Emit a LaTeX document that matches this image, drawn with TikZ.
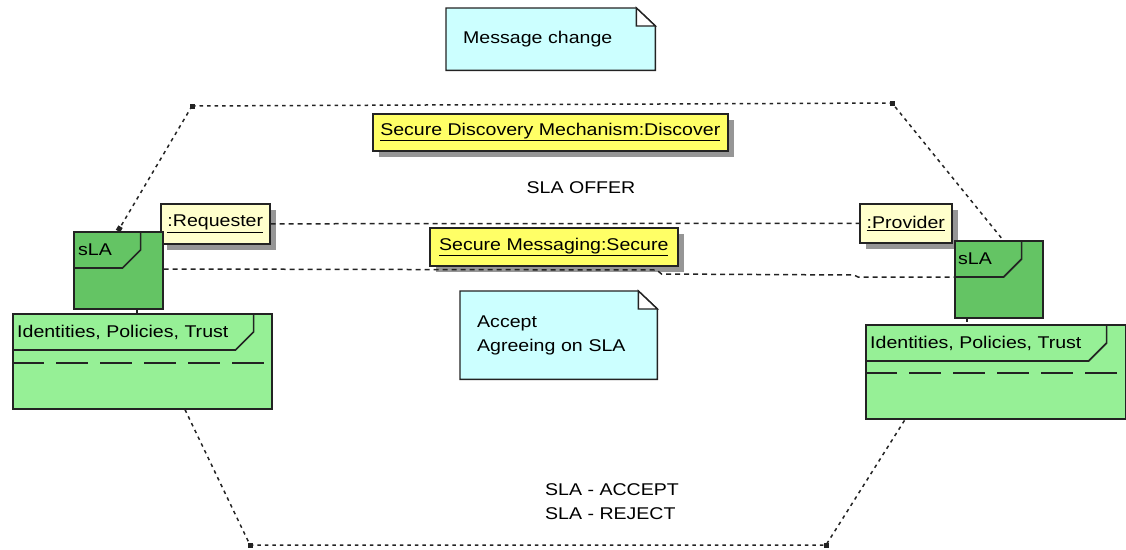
\documentclass[tikz,border=0pt]{standalone}
\usepackage{fontspec}
\setmainfont{Liberation Sans}[FakeStretch=1.15]
\usepackage{tikz}
\usetikzlibrary{arrows.meta, positioning, backgrounds, shadows, calc}
\definecolor{slagreen}{RGB}{100,196,100}
\definecolor{pkggreen}{RGB}{150,240,150}
\definecolor{objyellow}{RGB}{255,255,102}
\definecolor{objpale}{RGB}{255,255,204}
\definecolor{notecyan}{RGB}{204,255,255}
\definecolor{shadowgray}{RGB}{150,150,150}
\definecolor{edge}{RGB}{35,35,35}
\tikzset{%
	boxline/.style={draw=edge, line width=1.6pt},
	slabox/.style={boxline, fill=slagreen, rectangle, inner sep=0pt, anchor=north west},
	pkgbox/.style={boxline, fill=pkggreen, rectangle, inner sep=0pt, anchor=north west},
	objbox/.style={boxline, fill=objyellow, rectangle, inner sep=0pt, anchor=north west,%
		drop shadow={shadow xshift=6pt, shadow yshift=-6pt, fill=shadowgray, opacity=1}},
	objpalebox/.style={objbox, fill=objpale},
	notebox/.style={rectangle, inner xsep=17pt, inner ysep=0pt, anchor=north west, align=left},
	msgline/.style={edge, line width=1.5pt, dash pattern=on 5pt off 4pt},
	dotline/.style={edge, line width=1.5pt, dash pattern=on 3.5pt off 4pt},
	cornerpt/.style={fill=edge, rectangle, minimum size=5pt, inner sep=0pt},
	plain/.style={inner sep=0pt}
}
% cut-corner header of a box: node, notch from right, header depth
\newcommand\pkghead[3]{%
	\draw[boxline] ($(#1.north east)+(-#2,0)$) -- ++(0,#3-18) -- ++(-18,18)
		-- ($(#1.north west)+(0,#3)$);
}
% note outline with folded corner, behind the text
\newcommand\notefold[1]{%
	\begin{scope}[on background layer]
		\draw[boxline, line width=1.4pt, fill=notecyan] (#1.north west) -- ($(#1.north east)+(-19,0)$)
			-- ($(#1.north east)+(0,18)$) -- (#1.south east) -- (#1.south west) -- cycle;
		\draw[boxline, line width=1.4pt, fill=white] ($(#1.north east)+(-19,0)$) -- ++(0,18) -- ++(19,0) -- cycle;
	\end{scope}
}

\begin{document}
\begin{tikzpicture}[x=1pt, y=-1pt, font=\fontsize{17}{24}\selectfont]
	\useasboundingbox (0,0) rectangle (1126,549);

	\node[notebox, text width=175pt, minimum height=62pt] (change) at (446,8) {Message change};
	\notefold{change}
	\node[notebox, text width=163pt, minimum height=88pt] (agree) at (460,291) {Accept\\Agreeing on SLA};
	\notefold{agree}

	\node[objbox, minimum width=355pt, minimum height=37pt] (discover) at (372,113) {\underline{Secure Discovery Mechanism:Discover}};
	\node[objbox, minimum width=248pt, minimum height=38pt] (secure) at (429,227) {\underline{Secure Messaging:Secure}};
	\node[objpalebox, minimum width=109pt, minimum height=40pt] (requester) at (160,203) {\underline{:Requester}};
	\node[objpalebox, minimum width=92pt, minimum height=39pt] (provider) at (859,203) {\underline{:Provider}};

	\node[slabox, minimum width=89pt, minimum height=77pt,
		label={[plain, anchor=west, xshift=5pt, yshift=-19pt]north west:sLA}] (slaL) at (73,231) {};
	\node[slabox, minimum width=88pt, minimum height=77pt,
		label={[plain, anchor=west, xshift=4pt, yshift=-19pt]north west:sLA}] (slaR) at (954,240) {};
	\node[pkgbox, minimum width=259pt, minimum height=95pt,
		label={[plain, anchor=west, xshift=5pt, yshift=-19pt]north west:Identities, Policies, Trust}] (tpiL) at (12,313) {};
	\node[pkgbox, minimum width=260pt, minimum height=94pt,
		label={[plain, anchor=west, xshift=5pt, yshift=-19pt]north west:Identities, Policies, Trust}] (tpiR) at (865,324) {};

	\pkghead{slaL}{23}{37}
	\pkghead{slaR}{22}{37}
	\pkghead{tpiL}{19}{37}
	\pkghead{tpiR}{20}{37}
	\draw[boxline, dash pattern=on 32pt off 12pt] ($(tpiL.north west)+(0,50)$) -- ($(tpiL.north east)+(-8,50)$);
	\draw[boxline, dash pattern=on 32pt off 12pt] ($(tpiR.north west)+(0,49)$) -- ($(tpiR.north east)+(-8,49)$);

	\draw[msgline] (requester.east) -- (provider.west);
	\draw[msgline] ($(slaL.north east)+(0,38)$) -- ++(493,1) -- ++(5,4)
		-- ($(slaR.north west)+(-100,35)$) -- ($(slaR.north west)+(-96,37)$) -- ($(slaR.north west)+(0,37)$);

	\node[cornerpt] (tl) at (192,106) {};
	\node[cornerpt] (tr) at (892,103) {};
	\node[cornerpt] (bl) at (250,545) {};
	\node[cornerpt] (br) at (826,545) {};
	\draw[dotline, -{Square[length=5pt,width=5pt]}] (tl.center) -- ($(slaL.north west)+(45,0)$);
	\draw[dotline] (tl.center) -- (tr.center) -- ($(slaR.north west)+(49,0)$);
	\draw[dotline] ($(tpiL.south west)+(173,0)$) -- (bl.center) -- (br.center) -- ($(tpiR.south west)+(40,0)$);
	\draw[dotline] ($(slaL.south west)+(64,0)$) -- ($(tpiL.north west)+(125,0)$);
	\draw[dotline] ($(slaR.south west)+(13,0)$) -- ($(tpiR.north west)+(102,0)$);

	\node[plain] (offer) at (581,188) {SLA OFFER};
	\node[plain, anchor=west, align=left] (verdict) at (545,502) {SLA - ACCEPT\\SLA - REJECT};
\end{tikzpicture}
\end{document}
